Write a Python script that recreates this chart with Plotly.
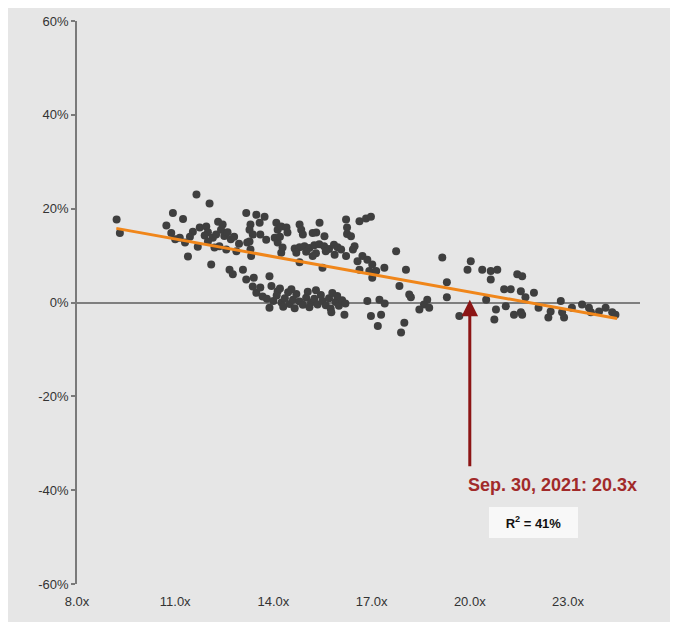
import plotly.graph_objects as go

# ---- data (forward P/E multiple vs. subsequent return, %) ----
pe_x = [
    9.21, 9.31, 10.73, 10.88, 10.93, 11.14, 11.24, 11.39, 11.54, 11.65, 11.69, 11.75, 11.95, 12.05,
    12.10, 12.15, 12.20, 12.31, 12.45, 12.00, 12.25, 12.40, 12.50, 12.60, 12.70, 12.56, 12.66, 12.76,
    12.87, 13.07, 12.80, 12.95, 11.90, 11.45, 11.00, 11.30, 12.35, 12.00,
    13.17, 13.48, 13.73, 13.30, 13.27, 13.37, 13.58, 13.27, 13.20, 13.30, 13.32, 13.78, 13.60,
    14.09, 14.13, 14.24, 14.40, 14.43, 14.04, 14.13, 14.28, 14.24, 14.20,
    14.80, 14.85, 14.90, 15.41, 15.31, 15.56, 15.20,
    14.65, 14.80, 14.95, 15.10, 15.25, 15.40, 15.55, 15.70, 15.85, 15.96, 14.70, 15.00, 15.30, 15.60,
    14.80, 15.50, 15.87, 16.07, 15.20,
    16.22, 16.25, 16.25, 16.37, 16.63, 16.83, 16.98,
    16.22, 16.43, 16.48, 16.63, 16.72, 16.57, 16.87, 16.93, 17.02, 17.14, 17.02, 17.39,
    17.75, 18.05, 17.85, 18.15, 18.20, 18.70, 18.60, 18.46, 18.76, 18.00, 17.90,
    19.16, 19.30, 19.30, 19.68, 20.03, 19.93, 20.38, 20.64, 20.84, 20.64, 21.45, 21.05, 21.25, 21.56,
    20.50, 20.80, 20.75, 21.10, 21.35, 21.56, 21.60,
    21.96, 21.70, 21.60, 22.10, 22.47, 22.40, 22.78, 22.82, 22.88, 23.12, 23.43, 23.64, 23.70, 23.95,
    24.15, 24.35, 24.45,
    13.17, 13.37, 13.48, 13.88, 13.40, 13.67, 13.60, 13.94, 14.13, 13.88,
    13.80, 14.00, 14.10, 14.25, 14.35, 14.45, 14.50, 14.60, 14.70, 14.80, 14.90, 15.00, 15.05, 15.15,
    15.25, 15.35, 15.45, 15.50, 15.60, 15.70, 15.80, 15.90, 16.00, 16.10, 14.30, 14.65, 15.10, 15.75,
    14.20, 14.55, 15.30, 15.95, 16.20,
    15.77, 16.17, 16.87, 17.24, 17.29, 16.98, 17.19, 17.40,
]
ret_y = [
    17.7, 14.8, 16.4, 14.8, 19.1, 13.8, 17.8, 9.8, 15.1, 23.0, 11.9, 16.0, 16.2, 21.1,
    8.1, 13.8, 11.7, 17.2, 16.6, 15.0, 14.5, 15.5, 14.2, 15.0, 13.5, 11.3, 7.0, 6.0,
    10.9, 7.0, 14.0, 12.5, 14.3, 14.0, 13.5, 12.8, 12.0, 13.0,
    19.1, 18.7, 18.3, 16.6, 15.5, 14.5, 17.0, 13.0, 12.8, 11.3, 9.9, 13.4, 14.5,
    17.0, 15.5, 16.2, 16.0, 14.9, 13.8, 12.8, 11.7, 10.6, 14.0,
    16.6, 15.5, 14.5, 17.0, 14.9, 14.1, 14.8,
    11.5, 11.8, 12.0, 11.6, 12.2, 12.4, 12.0, 11.4, 12.3, 11.8, 10.6, 10.8, 10.5, 10.9,
    8.6, 7.4, 10.2, 11.3, 9.9,
    17.7, 16.0, 14.6, 14.1, 17.3, 17.9, 18.3,
    9.9, 11.3, 12.0, 7.0, 9.9, 8.8, 9.1, 6.7, 8.1, 6.7, 5.3, 7.4,
    10.9, 7.0, 3.5, 1.7, 1.1, 0.6, -0.4, -1.5, -1.1, -4.3, -6.4,
    9.6, 4.3, 1.1, -2.9, 8.8, 7.0, 7.0, 6.7, 7.0, 4.9, 6.0, 2.8, 2.8, 2.4,
    0.6, -1.5, -3.6, -0.8, -2.6, -2.1, 5.6,
    2.1, 1.1, -2.6, -1.1, -1.9, -3.2, 0.3, -2.1, -3.2, -1.1, -0.4, -1.1, -2.1, -1.9,
    -1.1, -2.1, -2.6,
    4.9, 3.4, 2.1, 5.6, 5.3, 1.3, 3.2, 3.5, 2.4, -1.1,
    0.8, 0.3, 1.5, 0.0, 0.9, 2.2, -0.3, 0.6, 1.8, 0.2, -0.5, 1.0, 2.3, 0.0,
    0.8, -0.4, 1.6, 0.3, -0.6, 0.9, 2.0, 0.1, -0.7, 0.5, -0.9, -1.2, -1.0, -1.3,
    3.0, 2.8, 2.6, 1.4, -0.2,
    -2.1, -2.6, 0.3, 0.6, -2.6, -2.9, -5.0, -0.2,
]

trend_x = [9.2, 24.5]
trend_y = [15.8, -3.4]

x_tickvals = [8, 11, 14, 17, 20, 23]
x_ticktext = ["8.0x", "11.0x", "14.0x", "17.0x", "20.0x", "23.0x"]
y_tickvals = [-60, -40, -20, 0, 20, 40, 60]
y_ticktext = ["-60%", "-40%", "-20%", "0%", "20%", "40%", "60%"]

current_pe = 20.0
current_label = "Sep. 30, 2021: 20.3x"
r2_label = "R<sup>2</sup> = 41%"

FONT = "Liberation Sans, Arial, sans-serif"
BG = "#e6e6e6"

fig = go.Figure()
fig.add_trace(go.Scatter(
    x=pe_x, y=ret_y, mode="markers",
    marker=dict(color="#3f3f3f", size=8, line=dict(width=0)),
    showlegend=False, hoverinfo="skip",
))
fig.add_trace(go.Scatter(
    x=trend_x, y=trend_y, mode="lines",
    line=dict(color="#f0861a", width=3),
    showlegend=False, hoverinfo="skip",
))

# gray panel
fig.add_shape(type="rect", xref="paper", yref="paper",
              x0=-0.2, x1=1.057, y0=-0.1, y1=1.05,
              fillcolor=BG, line=dict(width=0), layer="below")

# arrow pointing at current valuation
fig.add_annotation(x=current_pe, y=0.6, ax=current_pe, ay=-35.2,
                   xref="x", yref="y", axref="x", ayref="y",
                   text="", showarrow=True, arrowhead=2, arrowsize=1.1,
                   arrowwidth=3, arrowcolor="#8c1515")
fig.add_annotation(x=19.88, y=-38.9, xref="x", yref="y",
                   text="<b>" + current_label + "</b>", showarrow=False,
                   xanchor="left", yanchor="middle",
                   font=dict(family=FONT, size=18, color="#a12a2a"))
fig.add_annotation(x=21.95, y=-46.8, xref="x", yref="y",
                   text="<b>" + r2_label + "</b>", showarrow=False,
                   xanchor="center", yanchor="middle",
                   width=75, height=17, borderpad=6,
                   bgcolor="#f8f8f8", bordercolor="#f8f8f8",
                   font=dict(family=FONT, size=13, color="#111111"))

fig.update_layout(
    width=670, height=614,
    margin=dict(l=69, r=38, t=13, b=38, autoexpand=False),
    paper_bgcolor="#ffffff",
    plot_bgcolor="rgba(0,0,0,0)",
    font=dict(family=FONT, size=13, color="#333333"),
    xaxis=dict(range=[8, 25.2], tickvals=x_tickvals, ticktext=x_ticktext,
               showgrid=False, zeroline=False, showline=False, ticks="",
               automargin=False,
               ticklabelstandoff=8, tickfont=dict(size=13, color="#333333")),
    yaxis=dict(range=[-60, 60], tickvals=y_tickvals, ticktext=y_ticktext,
               showgrid=False, zeroline=True, zerolinecolor="#7f7f7f", zerolinewidth=1.5,
               showline=True, linecolor="#7a7a7a", linewidth=1.5,
               automargin=False,
               ticks="outside", ticklen=4, tickcolor="#7a7a7a", tickwidth=1.5,
               tickfont=dict(size=13, color="#333333")),
)

fig.write_html("out.html")
